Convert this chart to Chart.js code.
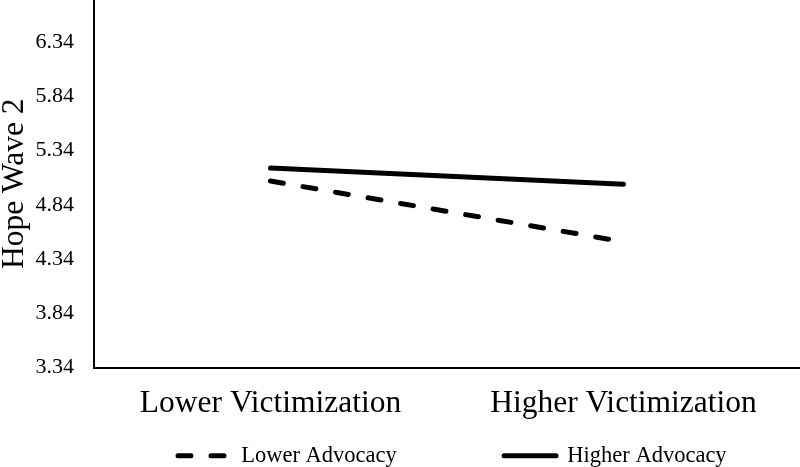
<!DOCTYPE html>
<html>
<head>
<meta charset="utf-8">
<script src="https://cdn.jsdelivr.net/npm/chart.js@4"></script>
<style>
  html, body { margin: 0; padding: 0; background: #fff; }
  #wrap { width: 800px; height: 467px; }
</style>
</head>
<body>
<div id="wrap"><canvas id="hopeChart"></canvas></div>
<script>
// values
const categories = ['Lower Victimization', 'Higher Victimization'];
const lowerAdvocacy = [5.06, 4.50];
const higherAdvocacy = [5.18, 5.03];
const yTicks = [3.34, 3.84, 4.34, 4.84, 5.34, 5.84, 6.34];
const seriesNames = ['Lower Advocacy', 'Higher Advocacy'];

const serif = 'Liberation Serif';

// moves the legend block sideways to where the original put it
const legendShift = {
  id: 'legendShift',
  afterLayout(chart) {
    const lg = chart.legend;
    lg.left += 156; lg.right += 156;
  }
};

const datasets = [{
  label: seriesNames[0],
  data: lowerAdvocacy,
  borderColor: '#000',
  backgroundColor: '#000',
  borderWidth: 5,
  borderDash: [13, 20],
  borderCapStyle: 'round',
  pointRadius: 0,
  tension: 0
}, {
  label: seriesNames[1],
  data: higherAdvocacy,
  borderColor: '#000',
  backgroundColor: '#000',
  borderWidth: 5,
  borderCapStyle: 'round',
  pointRadius: 0,
  tension: 0
}];

new Chart(document.getElementById('hopeChart'), {
  type: 'line',
  data: { labels: categories, datasets: datasets },
  plugins: [legendShift],
  options: {
    responsive: true,
    maintainAspectRatio: false,
    animation: false,
    layout: { padding: { top: 0, left: 0, right: 0, bottom: -10 } },
    plugins: {
      tooltip: { enabled: false },
      legend: {
        position: 'bottom',
        align: 'start',
        labels: {
          usePointStyle: true,
          pointStyleWidth: 52,
          padding: 22,
          color: '#000',
          font: { family: serif, size: 22.5 },
          generateLabels(chart) {
            const items = chart.data.datasets.map((ds, i) => ({
              text: ds.label,
              fillStyle: ds.borderColor,
              strokeStyle: ds.borderColor,
              fontColor: '#000',
              lineWidth: ds.borderWidth,
              lineDash: ds.borderDash || [],
              lineCap: 'round',
              pointStyle: 'line',
              hidden: false,
              datasetIndex: i
            }));
            // empty slot widens the gap between the two entries
            items.splice(1, 0, {
              text: '', fillStyle: 'rgba(0,0,0,0)', strokeStyle: 'rgba(0,0,0,0)',
              fontColor: 'rgba(0,0,0,0)', lineWidth: 0, pointStyle: 'line', hidden: false, datasetIndex: -1
            });
            return items;
          }
        }
      }
    },
    scales: {
      x: {
        offset: true,
        grid: { display: false, drawTicks: true, tickLength: 17 },
        border: { display: true, color: '#000', width: 2 },
        ticks: { padding: 0, color: '#000', font: { family: serif, size: 31.5 } },
        afterFit(scale) { scale.height = 55; }
      },
      y: {
        min: 3.34,
        max: 6.73,
        grid: { display: false, drawTicks: true, tickLength: 20 },
        border: { display: true, color: '#000', width: 2 },
        afterBuildTicks(scale) { scale.ticks = yTicks.map(v => ({ value: v })); },
        ticks: {
          padding: 0,
          color: '#000',
          font: { family: serif, size: 22, lineHeight: 0 },
          callback: v => v.toFixed(2)
        },
        title: {
          display: true,
          text: 'Hope Wave 2',
          color: '#000',
          padding: 0,
          font: { family: serif, size: 31.5, lineHeight: 0.95 }
        },
        afterFit(scale) { scale.width = 94; }
      }
    }
  }
});
</script>
</body>
</html>
